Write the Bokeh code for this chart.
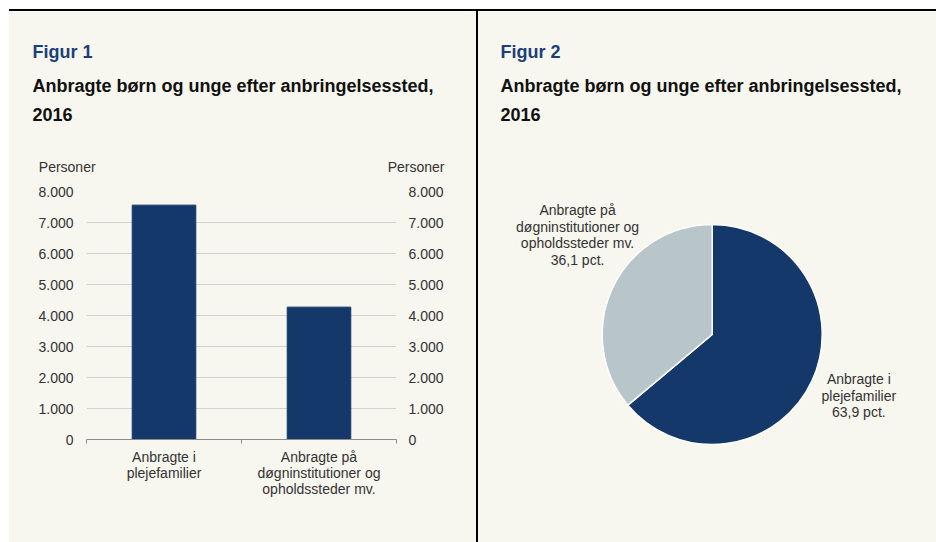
import math
from bokeh.plotting import figure
from bokeh.models import Range1d, LinearAxis, FixedTicker, Label, Spacer
from bokeh.layouts import column, row
from bokeh.embed import file_html
from bokeh.resources import INLINE

# ---------------- data ----------------
categories = ["Anbragte i plejefamilier",
              "Anbragte på døgninstitutioner og opholdssteder mv."]
category_labels = ["Anbragte i\nplejefamilier",
                   "Anbragte på\ndøgninstitutioner og\nopholdssteder mv."]
persons = [7560, 4270]
pie_pct = [63.9, 36.1]
y_ticks = [0, 1000, 2000, 3000, 4000, 5000, 6000, 7000, 8000]
y_tick_labels = ["0", "1.000", "2.000", "3.000", "4.000", "5.000", "6.000", "7.000", "8.000"]
title_main = "Anbragte  børn og unge efter anbringelsessted,"
title_year = "2016"
unit_label = "Personer"

# ---------------- style ----------------
BG = "#F7F6EF"
NAVY = "#15386B"
LIGHT = "#B8C6CA"
TITLE_BLUE = "#1B3F7A"
TEXT = "#333333"
AXIS_GRAY = "#8C8C8C"
GRID = "#D2D2D2"
FONT = "Liberation Sans"
LH = 1.03

W1, W2, H = 467, 458, 531
HEAD_H = 167
CHART_H = H - HEAD_H
BG_STYLE = {"background-color": BG}


def blank_fig(w, h, xr, yr):
    f = figure(width=w, height=h, x_range=xr, y_range=yr,
               x_axis_location=None, y_axis_location=None,
               output_backend="svg", toolbar_location=None,
               min_border=0, min_border_left=0, min_border_right=0,
               min_border_top=0, min_border_bottom=0)
    f.background_fill_color = BG
    f.border_fill_color = BG
    f.outline_line_color = None
    f.grid.visible = False
    return f


def add_text(p, text, x, y, size, color, bold=False, align="left", baseline="alphabetic",
             units="screen"):
    p.add_layout(Label(x=x, y=y, x_units=units, y_units=units, text=text,
                       text_font=FONT, text_font_size=size,
                       text_font_style="bold" if bold else "normal",
                       text_color=color, text_align=align, text_baseline=baseline,
                       text_line_height=LH))


# ---------------- figure 1 header (titles, unit labels) ----------------
h1 = blank_fig(W1, HEAD_H, Range1d(0, 1), Range1d(0, 1))
add_text(h1, "Figur 1", 23, 127, "18px", TITLE_BLUE, bold=True)
add_text(h1, title_main, 23, 92.7, "18px", "#111111", bold=True)
add_text(h1, title_year, 23, 64.5, "18px", "#111111", bold=True)
add_text(h1, unit_label, 29.3, 11.4, "14px", TEXT)
add_text(h1, unit_label, 435, 11.4, "14px", TEXT, align="right")

# ---------------- figure 1: bars ----------------
n = len(categories)
centers = [i + 0.5 for i in range(n)]
p1 = figure(width=W1, height=CHART_H, x_range=Range1d(0, n), y_range=Range1d(0, 8000),
            x_axis_location=None, y_axis_location="left",
            output_backend="svg", toolbar_location=None,
            min_border_left=77, min_border_right=80, min_border_top=13, min_border_bottom=103)
p1.background_fill_color = BG
p1.border_fill_color = BG
p1.outline_line_color = None

p1.vbar(x=centers, top=persons, width=0.41, color=NAVY, line_color=NAVY)

yt = FixedTicker(ticks=y_ticks)
overrides = {t: lab for t, lab in zip(y_ticks, y_tick_labels)}


def style_y(ax, standoff):
    ax.ticker = yt
    ax.major_label_overrides = overrides
    ax.axis_line_color = None
    ax.major_tick_line_color = None
    ax.minor_tick_line_color = None
    ax.major_tick_out = 0
    ax.major_tick_in = 0
    ax.major_label_standoff = standoff
    ax.major_label_text_font = FONT
    ax.major_label_text_font_size = "14px"
    ax.major_label_text_color = TEXT


style_y(p1.yaxis[0], 13)
right_ax = LinearAxis()
style_y(right_ax, 12)
p1.add_layout(right_ax, "right")

for g in p1.grid:
    if g.dimension == 0:
        g.visible = False
    else:
        g.ticker = yt
        g.grid_line_color = GRID
        g.grid_line_width = 1

# x axis: labels at category centres, small ticks at category boundaries
x_ax = LinearAxis(ticker=FixedTicker(ticks=centers, minor_ticks=list(range(n + 1))))
x_ax.axis_line_color = AXIS_GRAY
x_ax.major_tick_line_color = None
x_ax.major_tick_out = 0
x_ax.major_tick_in = 0
x_ax.minor_tick_line_color = AXIS_GRAY
x_ax.minor_tick_out = 4
x_ax.minor_tick_in = 0
x_ax.major_label_standoff = 5
x_ax.major_label_overrides = dict(zip(centers, category_labels))
x_ax.major_label_text_font = FONT
x_ax.major_label_text_font_size = "14px"
x_ax.major_label_text_color = TEXT
x_ax.major_label_text_line_height = LH
p1.add_layout(x_ax, "below")

# ---------------- figure 2: pie ----------------
unit_px = 110.0
cx_local, cy_local = 233.7, 323.0
p2 = blank_fig(W2, H,
               Range1d(-cx_local / unit_px, (W2 - cx_local) / unit_px),
               Range1d(-(H - cy_local) / unit_px, cy_local / unit_px))

pie_colors = [NAVY, LIGHT]
total = sum(pie_pct)
cum = 0.0
for pct, col in zip(pie_pct, pie_colors):
    a0 = math.pi / 2 - 2 * math.pi * cum / total
    cum += pct
    a1 = math.pi / 2 - 2 * math.pi * cum / total
    p2.wedge(x=0, y=0, radius=1, start_angle=a0, end_angle=a1, direction="clock",
             fill_color=col, line_color="white", line_width=1.5)

pie_texts = [f"{lab}\n{str(pct).replace('.', ',')} pct."
             for lab, pct in zip(category_labels, pie_pct)]
pie_label_pos = [(1.333, -0.555), (-1.224, 0.903)]
for txt, (lx, ly) in zip(pie_texts, pie_label_pos):
    add_text(p2, txt, lx, ly, "14px", TEXT, align="center", baseline="middle", units="data")

add_text(p2, "Figur 2", 22, 491, "18px", TITLE_BLUE, bold=True)
add_text(p2, title_main, 22, 456.7, "18px", "#111111", bold=True)
add_text(p2, title_year, 22, 428.5, "18px", "#111111", bold=True)

top_line = Spacer(width=W1 + 2 + W2, height=2, styles={"background-color": "black"})
divider = Spacer(width=2, height=H, styles={"background-color": "black"})
left_panel = column(column(h1, styles=BG_STYLE), column(p1, styles=BG_STYLE), styles=BG_STYLE)
layout = column(top_line, row(left_panel, divider, column(p2, styles=BG_STYLE)),
                margin=(9, 0, 0, 9))

open("out.html", "w").write(file_html(layout, INLINE))
